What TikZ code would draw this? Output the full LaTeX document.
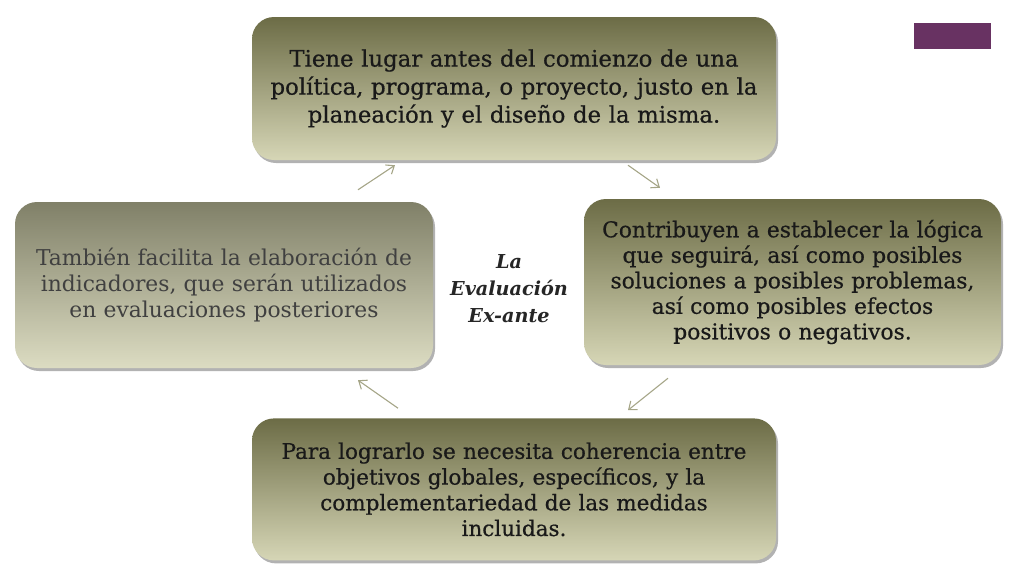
\documentclass[tikz,border=0pt]{standalone}
\usepackage{fontspec}
\setmainfont{DejaVu Serif}
\newfontfamily\heavyserif{DejaVu Serif}[FakeBold=0.6]
\usetikzlibrary{positioning,shadows,arrows.meta}

\definecolor{olivetop}{RGB}{108,108,70}
\definecolor{olivemid}{RGB}{160,160,118}
\definecolor{olivebot}{RGB}{214,214,182}
\definecolor{greytop}{RGB}{128,128,104}
\definecolor{greymid}{RGB}{175,175,145}
\definecolor{greybot}{RGB}{220,220,194}
\definecolor{arrowgrey}{RGB}{165,165,135}
\definecolor{plum}{RGB}{104,50,98}

\begin{document}
\begin{tikzpicture}[x=1pt,y=-1pt,>={Straight Barb[length=7pt,width=11pt]},
  box/.style={rounded corners=22pt,align=center,inner sep=0pt,text=black!90,
    top color=olivetop,middle color=olivemid,bottom color=olivebot,
    drop shadow={shadow xshift=2pt,shadow yshift=-3pt,opacity=.3,fill=black}},
  lightbox/.style={box,top color=greytop,middle color=greymid,bottom color=greybot,text=black!75},
  flow/.style={->,color=arrowgrey,line width=1.1pt}]
  \useasboundingbox (0,0) rectangle (1024,576);

  \node[box,minimum width=524pt,minimum height=143pt,text width=510pt,
    font=\heavyserif\fontsize{22.8}{28}\selectfont] (top) at (514,88.5)
    {Tiene lugar antes del comienzo de una\\ política, programa, o proyecto, justo en la\\ planeación y el diseño de la misma.};
  \node[box,minimum width=417pt,minimum height=166pt,text width=410pt,
    font=\heavyserif\fontsize{21.8}{25.5}\selectfont] (right) at (792.5,282)
    {Contribuyen a establecer la lógica\\ que seguirá, así como posibles\\ soluciones a posibles problemas,\\ así como posibles efectos\\ positivos o negativos.};
  \node[box,minimum width=524pt,minimum height=142pt,text width=510pt,
    font=\heavyserif\fontsize{21.5}{25.7}\selectfont,below=258pt of top] (bottom)
    {Para lograrlo se necesita coherencia entre\\ objetivos globales, específicos, y la\\ complementariedad de las medidas\\ incluidas.};
  \node[lightbox,minimum width=418pt,minimum height=166pt,text width=410pt,
    font=\fontsize{21.8}{26}\selectfont] (left) at (224,285)
    {También facilita la elaboración de\\ indicadores, que serán utilizados\\ en evaluaciones posteriores};

  \node[align=center,font=\fontsize{19.2}{27}\selectfont\bfseries\itshape,text=black!85] (title) at (509,289)
    {La\\ Evaluación\\ Ex-ante};

  \fill[plum] (914,23) rectangle (991,49);

  \path[flow]
  ([shift={(114,5)}]top.south) edge ([shift={(-132.5,-11)}]right.north)
  ([shift={(-124.5,13)}]right.south) edge ([shift={(114,-8)}]bottom.north)
  ([shift={(-116,-10)}]bottom.north) edge ([shift={(134,12)}]left.south)
  ([shift={(134,-12)}]left.north) edge ([shift={(-119,5)}]top.south)
  ;
\end{tikzpicture}
\end{document}
